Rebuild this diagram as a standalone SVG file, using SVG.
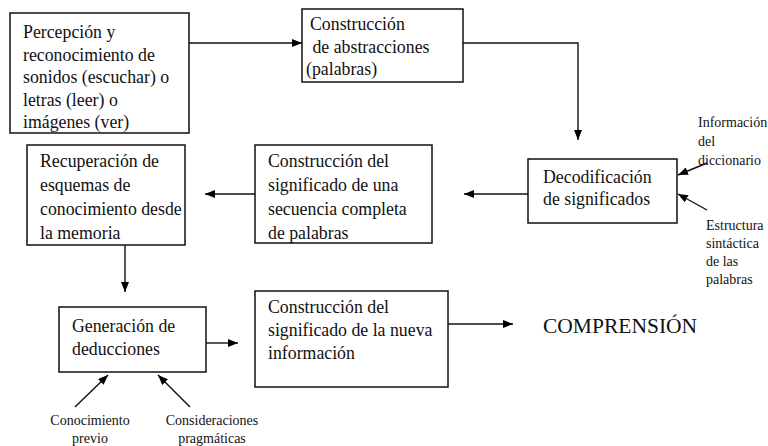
<svg xmlns="http://www.w3.org/2000/svg" width="768" height="446" viewBox="0 0 768 446" font-family="'Liberation Serif', 'Times New Roman', serif">
<defs>
<marker id="ah" viewBox="0 0 10 8" refX="10" refY="4" markerWidth="10" markerHeight="8" markerUnits="userSpaceOnUse" orient="auto">
<path d="M0,0 L10,4 L0,8 z" fill="#000"/>
</marker>
<style>
text{font-family:'Liberation Serif','Times New Roman',serif;fill:#111}
.box{fill:#fff;stroke:#111;stroke-width:1.5}
.t{font-size:17.8px}
.s{font-size:14px}
.c{font-size:21.5px}
.e{fill:none;stroke:#111;stroke-width:1.4;marker-end:url(#ah)}
</style>
</defs>
<rect width="768" height="446" fill="#fff"/>
<g id="connectors">
<path class="e" d="M189,43 H302"/>
<path class="e" d="M463,43 H578 V140"/>
<path class="e" d="M528,194 H464"/>
<path class="e" d="M255,194 H205"/>
<path class="e" d="M125,245 V292"/>
<path class="e" d="M206,343 H238"/>
<path class="e" d="M448,324 H513"/>
<path class="e" d="M707,163 L678,175"/>
<path class="e" d="M707,210 L678,194"/>
<path class="e" d="M75,407 L108,375"/>
<path class="e" d="M190,407 L158,375"/>
</g>
<g id="n1">
<rect class="box" x="10" y="13" width="179" height="120"/>
<text class="t" x="23" y="38">Percepción y</text>
<text class="t" x="23" y="60.5">reconocimiento de</text>
<text class="t" x="23" y="83">sonidos (escuchar) o</text>
<text class="t" x="23" y="105.5">letras (leer) o</text>
<text class="t" x="23" y="128">imágenes (ver)</text>
</g>
<g id="n2">
<rect class="box" x="302" y="9" width="161" height="73"/>
<text class="t" x="310" y="30">Construcción</text>
<text class="t" x="308" y="53" xml:space="preserve"> de abstracciones</text>
<text class="t" x="306" y="75">(palabras)</text>
</g>
<g id="n3">
<rect class="box" x="528" y="159" width="149" height="64"/>
<text class="t" x="543" y="183">Decodificación</text>
<text class="t" x="543" y="205">de significados</text>
</g>
<g id="l1">
<text class="s" x="698" y="127">Información</text>
<text class="s" x="698" y="146">del</text>
<text class="s" x="698" y="165">diccionario</text>
</g>
<g id="l2">
<text class="s" x="706" y="230">Estructura</text>
<text class="s" x="706" y="248">sintáctica</text>
<text class="s" x="706" y="266">de las</text>
<text class="s" x="706" y="284">palabras</text>
</g>
<g id="n4">
<rect class="box" x="255" y="145" width="177" height="98"/>
<text class="t" x="268" y="167">Construcción del</text>
<text class="t" x="268" y="191">significado de una</text>
<text class="t" x="268" y="215">secuencia completa</text>
<text class="t" x="268" y="239">de palabras</text>
</g>
<g id="n5">
<rect class="box" x="27" y="145" width="158" height="100"/>
<text class="t" x="40" y="167">Recuperación de</text>
<text class="t" x="40" y="191">esquemas de</text>
<text class="t" x="40" y="215">conocimiento desde</text>
<text class="t" x="40" y="239">la memoria</text>
</g>
<g id="n6">
<rect class="box" x="59" y="307" width="147" height="65"/>
<text class="t" x="72" y="332">Generación de</text>
<text class="t" x="72" y="355">deducciones</text>
</g>
<g id="n7">
<rect class="box" x="255" y="291" width="193" height="96"/>
<text class="t" x="268" y="313">Construcción del</text>
<text class="t" x="268" y="336">significado de la nueva</text>
<text class="t" x="268" y="359">información</text>
</g>
<g id="n8">
<text class="c" x="543" y="333">COMPRENSIÓN</text>
</g>
<g id="l3">
<text class="s" x="90" y="425" text-anchor="middle">Conocimiento</text>
<text class="s" x="90" y="443" text-anchor="middle">previo</text>
</g>
<g id="l4">
<text class="s" x="212" y="425" text-anchor="middle">Consideraciones</text>
<text class="s" x="212" y="443" text-anchor="middle">pragmáticas</text>
</g>
</svg>
